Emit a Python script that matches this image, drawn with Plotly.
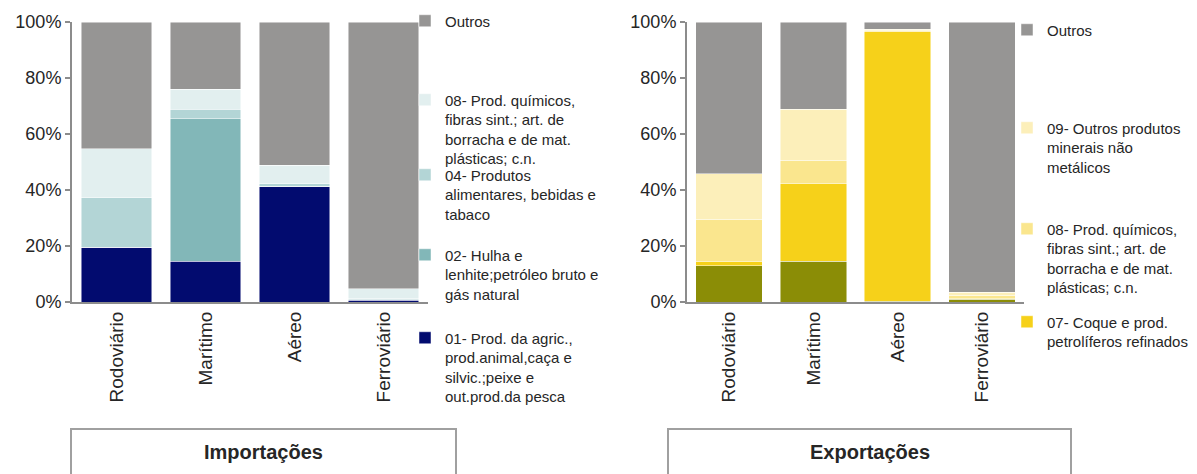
import plotly.graph_objects as go

# The page body has an 8px margin, so the figure is drawn 8px smaller and
# all pixel positions below are page positions offset by that margin.
OFF = 8
W, H = 1197 - OFF, 474 - OFF

categories = ["Rodoviário", "Marítimo", "Aéreo", "Ferroviário"]
tick_vals = [0, 20, 40, 60, 80, 100]
tick_text = ["0%", "20%", "40%", "60%", "80%", "100%"]

# Importações (% of each transport mode), bottom to top
imp_names = [
    "01- Prod. da agric.,<br>prod.animal,caça e<br>silvic.;peixe e<br>out.prod.da pesca",
    "02- Hulha e<br>lenhite;petróleo bruto e<br>gás natural",
    "04- Produtos<br>alimentares, bebidas e<br>tabaco",
    "08- Prod. químicos,<br>fibras sint.; art. de<br>borracha e de mat.<br>plásticas; c.n.",
    "Outros",
]
imp_01 = [19.5, 14.5, 41.1, 0.7]
imp_02 = [0.0, 50.9, 0.2, 0.2]
imp_04 = [17.7, 3.5, 0.9, 0.3]
imp_08 = [17.5, 7.1, 6.7, 3.6]
imp_outros = [45.3, 24.0, 51.1, 95.2]
imp_colors = ["#020B6F", "#82B7B8", "#B3D5D6", "#E2EFEF", "#969594"]

# Exportações (% of each transport mode), bottom to top
exp_names = [
    "(legenda não visível)",
    "07- Coque e prod.<br>petrolíferos refinados",
    "08- Prod. químicos,<br>fibras sint.; art. de<br>borracha e de mat.<br>plásticas; c.n.",
    "09- Outros produtos<br>minerais não<br>metálicos",
    "Outros",
]
exp_olive = [12.9, 14.6, 0.2, 1.0]
exp_07 = [1.7, 27.9, 96.4, 0.4]
exp_08 = [15.0, 8.2, 0.4, 1.0]
exp_09 = [16.2, 18.2, 0.5, 1.1]
exp_outros = [54.2, 31.1, 2.5, 96.5]
exp_colors = ["#8B8D06", "#F6D11A", "#FAE68E", "#FCEFBA", "#969594"]

FONT = "Arial, 'Liberation Sans', sans-serif"
TXT = "#262626"


def px(x):
    return (x - OFF) / W


def py(y):
    return 1 - (y - OFF) / H


fig = go.Figure()

imp_series = [imp_01, imp_02, imp_04, imp_08, imp_outros]
imp_legends = ["legend5", "legend4", "legend3", "legend2", "legend"]
for name, vals, col, lg in zip(imp_names, imp_series, imp_colors, imp_legends):
    fig.add_trace(go.Bar(
        x=categories, y=vals, name=name, marker_color=col,
        marker_line=dict(width=0.8, color="rgba(255,255,255,0.6)"),
        xaxis="x", yaxis="y", legend=lg,
    ))

exp_series = [exp_olive, exp_07, exp_08, exp_09, exp_outros]
exp_legends = [None, "legend9", "legend8", "legend7", "legend6"]
for name, vals, col, lg in zip(exp_names, exp_series, exp_colors, exp_legends):
    kw = dict(legend=lg) if lg else dict(showlegend=False)
    fig.add_trace(go.Bar(
        x=categories, y=vals, name=name, marker_color=col,
        marker_line=dict(width=0.8, color="rgba(255,255,255,0.6)"),
        xaxis="x2", yaxis="y2", **kw,
    ))

axis_common = dict(
    showline=True, linecolor="#8C8C8C", linewidth=2,
    showgrid=False, zeroline=False, automargin=False,
)
yax = dict(
    range=[0, 100], tickvals=tick_vals, ticktext=tick_text,
    ticks="outside", ticklen=5, tickwidth=2, tickcolor="#8C8C8C",
    tickfont=dict(family=FONT, size=18, color=TXT),
    domain=[py(302), py(22)], **axis_common,
)
xax = dict(tickangle=-90, ticks="",
           tickfont=dict(family=FONT, size=19, color=TXT), **axis_common)

leg_font = dict(family=FONT, size=15, color=TXT)


def legend_at(x_text, y_center):
    return dict(
        x=px(x_text - 40), y=py(y_center - 16.5), xanchor="left", yanchor="top",
        xref="paper", yref="paper", font=leg_font, bgcolor="rgba(0,0,0,0)",
        valign="top", itemclick=False, itemdoubleclick=False,
    )


fig.update_layout(
    width=W, height=H,
    margin=dict(l=0, r=0, t=0, b=0, autoexpand=False),
    paper_bgcolor="white", plot_bgcolor="white",
    barmode="stack", bargap=0.21,
    xaxis=dict(domain=[px(72), px(428)], anchor="y", **xax),
    yaxis=dict(anchor="x", **yax),
    xaxis2=dict(domain=[px(687), px(1024)], anchor="y2", **xax),
    yaxis2=dict(anchor="x2", **yax),
    legend=legend_at(445, 21),
    legend2=legend_at(445, 100),
    legend3=legend_at(445, 175),
    legend4=legend_at(445, 255),
    legend5=legend_at(445, 338),
    legend6=legend_at(1047, 30),
    legend7=legend_at(1047, 128),
    legend8=legend_at(1047, 229),
    legend9=legend_at(1047, 322),
    shapes=[
        dict(type="rect", xref="paper", yref="paper",
             x0=px(71), x1=px(456), y0=py(490), y1=py(429),
             line=dict(color="#A0A0A0", width=2), fillcolor="rgba(0,0,0,0)"),
        dict(type="rect", xref="paper", yref="paper",
             x0=px(668), x1=px(1071), y0=py(490), y1=py(429),
             line=dict(color="#A0A0A0", width=2), fillcolor="rgba(0,0,0,0)"),
    ],
    annotations=[
        dict(text="<b>Importações</b>", x=px(263.5), y=py(452), xref="paper", yref="paper",
             xanchor="center", yanchor="middle",
             showarrow=False, font=dict(family=FONT, size=20, color=TXT)),
        dict(text="<b>Exportações</b>", x=px(869.5), y=py(452), xref="paper", yref="paper",
             xanchor="center", yanchor="middle",
             showarrow=False, font=dict(family=FONT, size=20, color=TXT)),
    ],
)

fig.write_html("out.html")
